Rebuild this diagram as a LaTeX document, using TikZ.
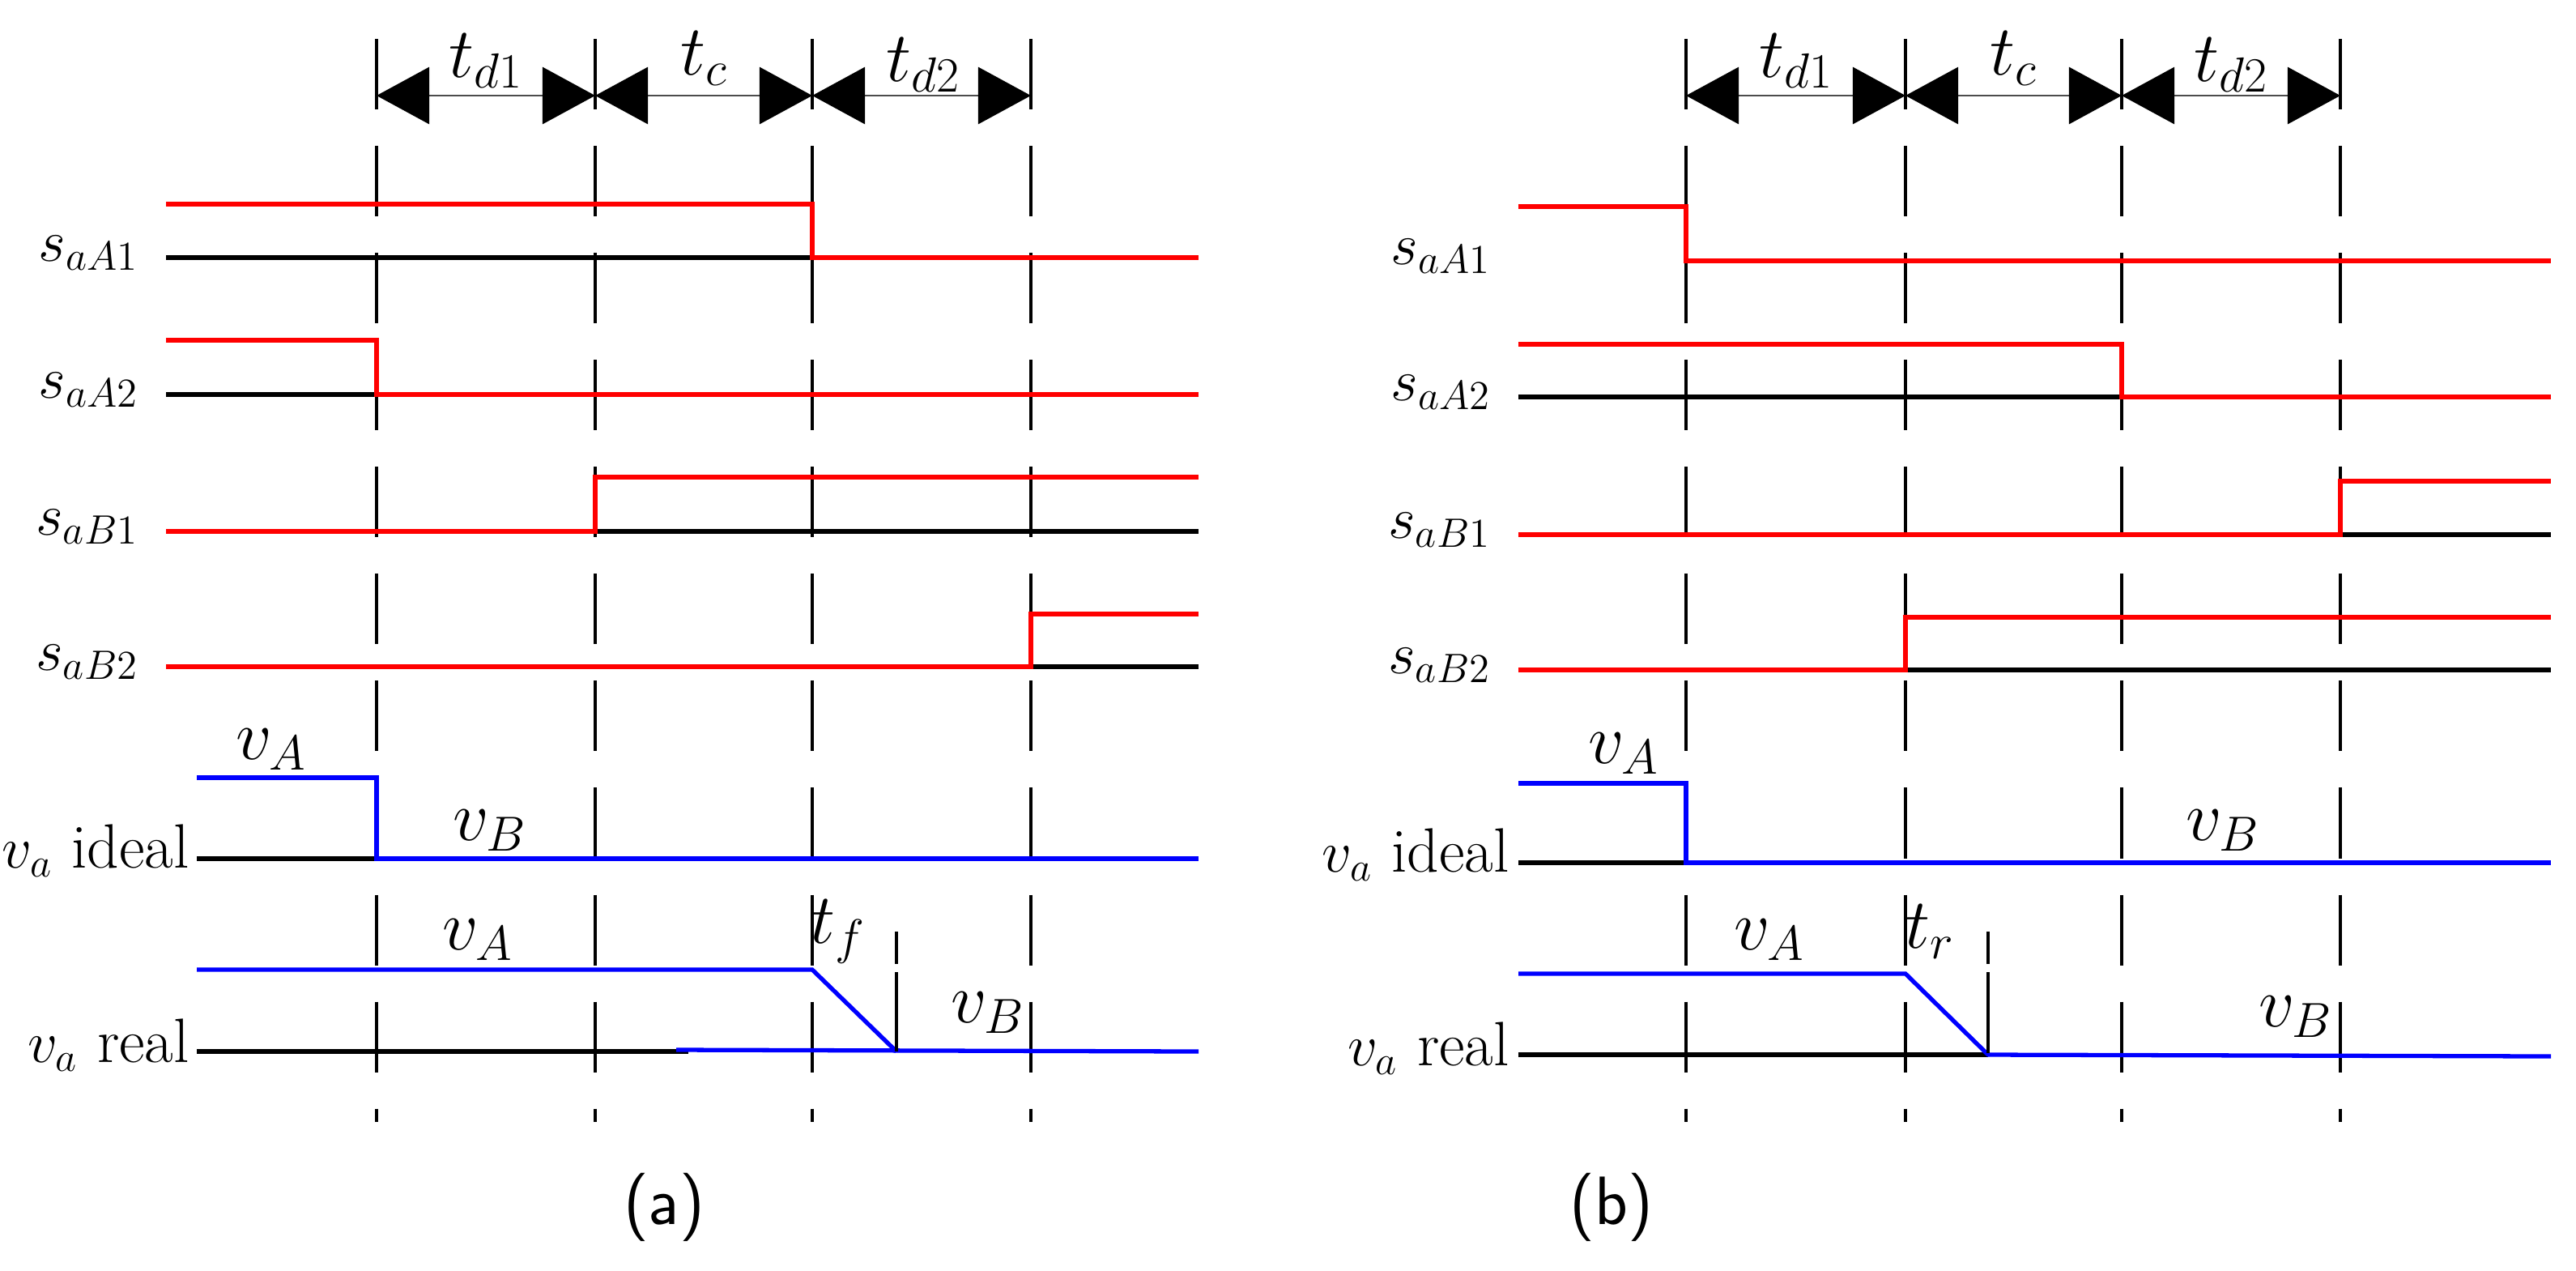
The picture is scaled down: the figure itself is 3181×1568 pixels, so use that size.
\documentclass[tikz,border=0pt]{standalone}
\usepackage{fontspec}
\usetikzlibrary{arrows.meta}
\begin{document}
\begin{tikzpicture}[x=0.01cm,y=-0.01cm,
  sig/.style={line width=1.5pt},
  ksig/.style={sig,black},
  rsig/.style={sig,red},
  bsig/.style={sig,blue},
  dsh/.style={line width=1.1pt,dash pattern=on 0.87cm off 0.45cm},
  tick/.style={line width=1.1pt},
  dim/.style={line width=0.8pt,gray!60!black,{Triangle[length=0.65cm,width=0.7cm,black]}-{Triangle[length=0.65cm,width=0.7cm,black]}},
  lab/.style={font=\fontsize{25}{30}\selectfont},
  llab/.style={anchor=east,inner sep=1pt,font=\fontsize{22}{26}\selectfont},
  pcap/.style={font=\sffamily\fontsize{24}{28}\selectfont}]
\useasboundingbox (0,0) rectangle (3181,1568);
% ---------- panel (a)
\foreach \x in {465,735,1003,1273}{
  \draw[tick] (\x,48) -- (\x,135);
  \draw[dsh] (\x,180) -- (\x,1385);}
\draw[dim] (465,118) -- (735,118);
\draw[dim] (735,118) -- (1003,118);
\draw[dim] (1003,118) -- (1273,118);
\node[lab] at (600,75) {$t_{d1}$};
\node[lab] at (870,72) {$t_c$};
\node[lab] at (1140,80) {$t_{d2}$};
% sA1
\draw[ksig] (205,318) -- (1003,318);
\draw[rsig] (205,252) -- (1003,252) -- (1003,318) -- (1480,318);
\node[llab] at (175,312) {$s_{aA1}$};
% sA2
\draw[ksig] (205,487) -- (465,487);
\draw[rsig] (205,420) -- (465,420) -- (465,487) -- (1480,487);
\node[llab] at (175,481) {$s_{aA2}$};
% sB1
\draw[ksig] (735,656) -- (1480,656);
\draw[rsig] (205,656) -- (735,656) -- (735,589) -- (1480,589);
\node[llab] at (175,650) {$s_{aB1}$};
% sB2
\draw[ksig] (1273,823) -- (1480,823);
\draw[rsig] (205,823) -- (1273,823) -- (1273,758) -- (1480,758);
\node[llab] at (175,817) {$s_{aB2}$};
% ideal
\draw[ksig] (243,1060) -- (465,1060);
\draw[bsig] (243,960) -- (465,960) -- (465,1060) -- (1480,1060);
\node[llab] at (238,1050) {$v_a$ ideal};
\node[lab] at (335,925) {$v_A$};
\node[lab] at (605,1025) {$v_B$};
% real
\draw[ksig] (243,1298) -- (850,1298);
\draw[bsig] (243,1197) -- (1003,1197) -- (1107,1298);
\draw[bsig] (835,1296) -- (1480,1298);
\draw[dsh,dash pattern=on 0.4cm off 0.1cm on 1.0cm off 0.2cm] (1107,1150) -- (1107,1298);
\node[llab] at (238,1290) {$v_a$ real};
\node[lab] at (590,1160) {$v_A$};
\node[lab] at (1035,1150) {$t_f$};
\node[lab] at (1220,1250) {$v_B$};
\node[pcap] at (820,1490) {(a)};
% ---------- panel (b)
\foreach \x in {2082,2353,2620,2890}{
  \draw[tick] (\x,48) -- (\x,135);
  \draw[dsh] (\x,180) -- (\x,1385);}
\draw[dim] (2082,118) -- (2353,118);
\draw[dim] (2353,118) -- (2620,118);
\draw[dim] (2620,118) -- (2890,118);
\node[lab] at (2218,75) {$t_{d1}$};
\node[lab] at (2487,72) {$t_c$};
\node[lab] at (2755,80) {$t_{d2}$};
% sA1
\draw[rsig] (1875,255) -- (2082,255) -- (2082,322) -- (3150,322);
\node[llab] at (1845,316) {$s_{aA1}$};
% sA2
\draw[ksig] (1875,490) -- (2620,490);
\draw[rsig] (1875,425) -- (2620,425) -- (2620,490) -- (3150,490);
\node[llab] at (1845,484) {$s_{aA2}$};
% sB1
\draw[ksig] (2890,660) -- (3150,660);
\draw[rsig] (1875,660) -- (2890,660) -- (2890,594) -- (3150,594);
\node[llab] at (1845,654) {$s_{aB1}$};
% sB2
\draw[ksig] (2353,827) -- (3150,827);
\draw[rsig] (1875,827) -- (2353,827) -- (2353,762) -- (3150,762);
\node[llab] at (1845,821) {$s_{aB2}$};
% ideal
\draw[ksig] (1875,1065) -- (2082,1065);
\draw[bsig] (1875,967) -- (2082,967) -- (2082,1065) -- (3150,1065);
\node[llab] at (1868,1055) {$v_a$ ideal};
\node[lab] at (2005,930) {$v_A$};
\node[lab] at (2745,1025) {$v_B$};
% real
\draw[ksig] (1875,1302) -- (2455,1302);
\draw[bsig] (1875,1202) -- (2353,1202) -- (2455,1302) -- (3150,1304);
\draw[dsh,dash pattern=on 0.4cm off 0.1cm on 1.0cm off 0.2cm] (2455,1150) -- (2455,1302);
\node[llab] at (1868,1294) {$v_a$ real};
\node[lab] at (2185,1160) {$v_A$};
\node[lab] at (2383,1150) {$t_r$};
\node[lab] at (2835,1255) {$v_B$};
\node[pcap] at (1990,1490) {(b)};
\end{tikzpicture}
\end{document}
